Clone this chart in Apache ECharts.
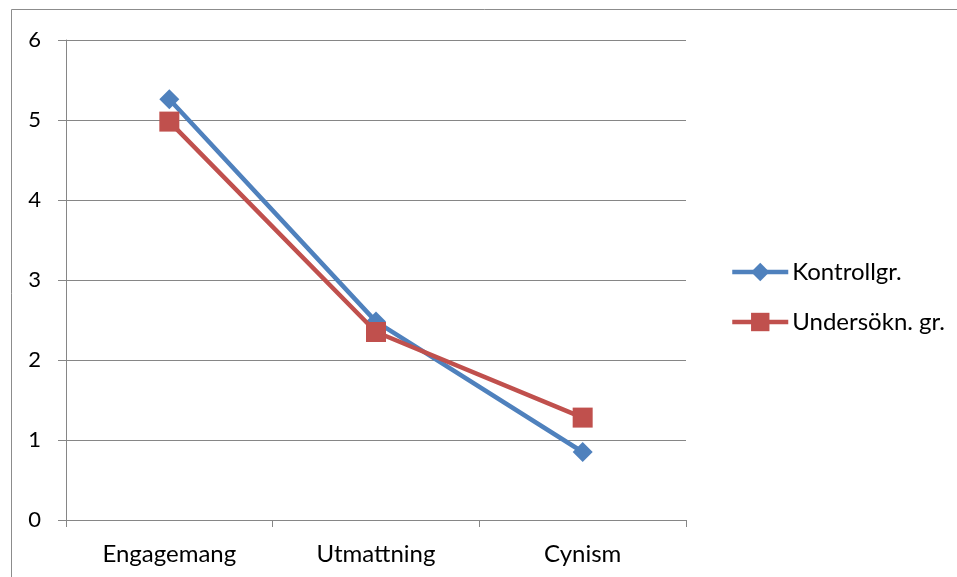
<!DOCTYPE html>
<html>
<head>
<meta charset="utf-8">
<script src="https://cdn.jsdelivr.net/npm/echarts@6/dist/echarts.min.js"></script>
<style>html,body{margin:0;padding:0;background:#fff}#c{width:957px;height:577px}</style>
</head>
<body>
<div id="c"></div>
<script>
const categories = ['Engagemang', 'Utmattning', 'Cynism'];
const kontroll = [5.26, 2.48, 0.85];
const undersokn = [4.98, 2.35, 1.28];
const seriesNames = ['Kontrollgr.', 'Undersökn. gr.'];
const yTicks = [0, 1, 2, 3, 4, 5, 6];

const font = 'Lato, "Open Sans", sans-serif';
const chart = echarts.init(document.getElementById('c'));
chart.setOption({
  animation: false,
  backgroundColor: '#fff',
  textStyle: { fontFamily: font },
  graphic: [{
    type: 'rect', shape: { x: 11.5, y: 9.5, width: 960, height: 580 },
    style: { fill: 'none', stroke: '#8c8c8c', lineWidth: 1 }, silent: true
  }],
  grid: { left: 66, right: 271, top: 40, bottom: 57 },
  legend: {
    orient: 'vertical', left: 725, top: 255, itemGap: 26,
    itemWidth: 56, itemHeight: 23,
    lineStyle: { width: 4.5 },
    textStyle: { fontFamily: font, fontSize: 24, color: '#000', padding: [0, 0, 0, -1] },
    data: seriesNames
  },
  xAxis: {
    type: 'category', data: categories, boundaryGap: true,
    axisLine: { lineStyle: { color: '#868686', width: 1 } },
    axisTick: { show: true, length: 7, interval: 0, lineStyle: { color: '#868686' } },
    axisLabel: { fontFamily: font, fontSize: 24, color: '#000', margin: 22 }
  },
  yAxis: {
    type: 'value', min: 0, max: 6, interval: 1,
    axisLine: { show: true, lineStyle: { color: '#868686', width: 1 } },
    axisTick: { show: true, length: 8, lineStyle: { color: '#868686' } },
    axisLabel: { fontFamily: font, fontSize: 22, color: '#000', margin: 25,
      formatter: v => yTicks.includes(v) ? String(v) : '' },
    splitLine: { show: true, lineStyle: { color: '#868686', width: 1 } }
  },
  series: [
    {
      name: seriesNames[0], type: 'line', data: kontroll,
      symbol: 'diamond', symbolSize: 20,
      lineStyle: { color: '#4F81BD', width: 4.5 },
      itemStyle: { color: '#4F81BD' }, z: 2
    },
    {
      name: seriesNames[1], type: 'line', data: undersokn,
      symbol: 'rect', symbolSize: 20,
      lineStyle: { color: '#C0504D', width: 4.5 },
      itemStyle: { color: '#C0504D' }, z: 3
    }
  ]
});
</script>
</body>
</html>
